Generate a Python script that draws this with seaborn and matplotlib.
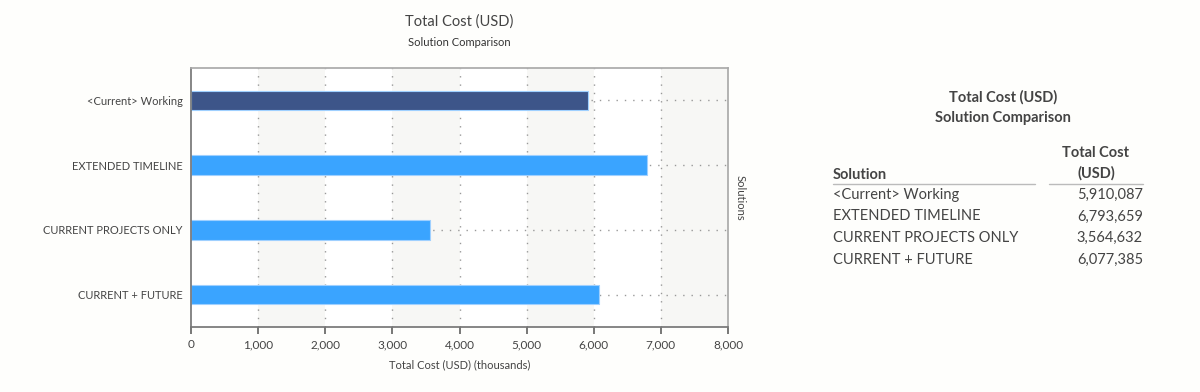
import numpy as np
import pandas as pd
import seaborn as sns
import matplotlib.pyplot as plt

solutions = ["<Current> Working", "EXTENDED TIMELINE", "CURRENT PROJECTS ONLY", "CURRENT + FUTURE"]
total_cost = [5910087, 6793659, 3564632, 6077385]
bar_colors = ["#3d5589", "#3aa4ff", "#3aa4ff", "#3aa4ff"]
x_ticks = [0, 1000, 2000, 3000, 4000, 5000, 6000, 7000, 8000]

df = pd.DataFrame({"Solution": solutions, "Cost": np.array(total_cost) / 1000})

sns.set_theme(style="white")
plt.rcParams["font.family"] = ["Lato", "DejaVu Sans"]
text_col = "#444444"

fig = plt.figure(figsize=(12, 3.92), dpi=100, facecolor="#fefefc")
ax = fig.add_axes([191 / 1200, 1 - 327 / 392, (728 - 191) / 1200, (327 - 68) / 392])
ax.set_facecolor("white")

# alternating vertical bands
for i in range(1, 8, 2):
    ax.axvspan(x_ticks[i], x_ticks[i + 1], color="#f7f7f5", zorder=0, lw=0)

for x in x_ticks[1:-1]:
    ax.axvline(x, color="#999999", ls=(0, (1, 5)), lw=1, zorder=1)
for i in range(len(solutions)):
    ax.axhline(i, color="#999999", ls=(0, (1, 5)), lw=1, zorder=1)

sns.barplot(data=df, y="Solution", x="Cost", hue="Solution", palette=bar_colors,
            orient="h", width=0.3, saturation=1, legend=False, ax=ax, zorder=2,
            edgecolor="#9fd0ff", linewidth=0.8)
ax.patches[0].set_edgecolor("#8c9cc0")

ax.set_xlim(0, 8000)
ax.set_ylim(3.5, -0.5)
ax.set_xticks(x_ticks)
ax.set_xticklabels([f"{v:,}" for v in x_ticks], fontsize=8.5, color=text_col)
ax.tick_params(axis="x", bottom=True, length=5, color="#666666", pad=4)
ax.tick_params(axis="y", left=False, length=0, labelsize=8, labelcolor=text_col, pad=6)
ax.set_xlabel("Total Cost (USD) (thousands)", fontsize=8, color=text_col, labelpad=6)
ax.set_ylabel("")
for side in ["left", "bottom"]:
    ax.spines[side].set_color("#777777")
for side in ["top", "right"]:
    ax.spines[side].set_color("#aaaaaa")

ax.text(1.012, 0.5, "Solutions", transform=ax.transAxes, rotation=270,
        ha="left", va="center", fontsize=8, color=text_col)

fig.text(459.5 / 1200, 1 - 22 / 392, "Total Cost (USD)", ha="center", va="center",
         fontsize=10.5, color=text_col)
fig.text(459.5 / 1200, 1 - 43 / 392, "Solution Comparison", ha="center", va="center",
         fontsize=8, color="#333333")

# summary table on the right
fig.text(1003 / 1200, 1 - 97 / 392, "Total Cost (USD)", ha="center", va="center",
         fontsize=10.5, fontweight="bold", color=text_col)
fig.text(1003 / 1200, 1 - 118 / 392, "Solution Comparison", ha="center", va="center",
         fontsize=10.5, fontweight="bold", color=text_col)
fig.text(833 / 1200, 1 - 175 / 392, "Solution", ha="left", va="center",
         fontsize=10.5, fontweight="bold", color=text_col)
fig.text(1096 / 1200, 1 - 153 / 392, "Total Cost", ha="center", va="center",
         fontsize=10.5, fontweight="bold", color=text_col)
fig.text(1096 / 1200, 1 - 173 / 392, "(USD)", ha="center", va="center",
         fontsize=10.5, fontweight="bold", color=text_col)
fig.add_artist(plt.Line2D([833 / 1200, 1035 / 1200], [1 - 184 / 392] * 2, color="#bbbbbb", lw=1))
fig.add_artist(plt.Line2D([1049 / 1200, 1143 / 1200], [1 - 184 / 392] * 2, color="#bbbbbb", lw=1))
for i, (name, cost) in enumerate(zip(solutions, total_cost)):
    y = 1 - (195 + i * 21.5) / 392
    fig.text(833 / 1200, y, name, ha="left", va="center", fontsize=10.5, color=text_col)
    fig.text(1143 / 1200, y, f"{cost:,}", ha="right", va="center", fontsize=10.5, color=text_col)

fig.savefig("out.png", dpi=100, facecolor=fig.get_facecolor())
